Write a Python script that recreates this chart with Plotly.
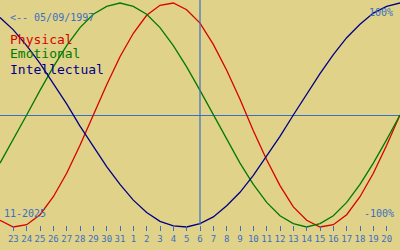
import plotly.graph_objects as go
import pandas as pd

# Data: one point per day, 22 Oct 2025 .. 21 Nov 2025 (values in -1..1 = -100%..100%)
dates = pd.date_range("2025-10-22", "2025-11-21", freq="D")
physical = [-0.94, -1.00, -0.98, -0.89, -0.73, -0.52, -0.27, 0.00, 0.27, 0.52, 0.73,
            0.89, 0.98, 1.00, 0.94, 0.82, 0.63, 0.40, 0.14, -0.14, -0.40, -0.63,
            -0.82, -0.94, -1.00, -0.98, -0.89, -0.73, -0.52, -0.27, 0.00]
emotional = [-0.43, -0.22, 0.00, 0.22, 0.43, 0.62, 0.78, 0.90, 0.97, 1.00, 0.97,
             0.90, 0.78, 0.62, 0.43, 0.22, 0.00, -0.22, -0.43, -0.62, -0.78, -0.90,
             -0.97, -1.00, -0.97, -0.90, -0.78, -0.62, -0.43, -0.22, 0.00]
intellectual = [0.87, 0.76, 0.62, 0.46, 0.28, 0.10, -0.10, -0.28, -0.46, -0.62, -0.76,
                -0.87, -0.95, -0.99, -1.00, -0.97, -0.91, -0.81, -0.69, -0.54, -0.37, -0.19,
                0.00, 0.19, 0.37, 0.54, 0.69, 0.81, 0.91, 0.97, 1.00]
tick_dates = pd.date_range("2025-10-23", "2025-11-20", freq="D")
tick_labels = [str(d.day) for d in tick_dates]
today = "2025-11-06"
birth_label = "<-- 05/09/1997"
month_label = "11-2025"
series_names = ["Physical", "Emotional", "Intellectual"]
series_colors = ["#d80000", "#007a00", "#000088"]

BG = "#e0d288"
BLUE = "#3a6fc4"
W, H = 400, 250
MONO = "DejaVu Sans Mono"

fig = go.Figure()
for name, vals, col in zip(series_names, [physical, emotional, intellectual], series_colors):
    fig.add_trace(go.Scatter(x=dates, y=vals, mode="lines", name=name,
                             line=dict(color=col, width=1.3), showlegend=False,
                             hoverinfo="skip"))

# y: value 1 at pixel 3, value -1 at pixel 227 (112 px per unit)
ppu = 112.0
y_top = 1 + 3 / ppu
y_bot = -1 - (H - 227) / ppu

fig.update_layout(
    width=W, height=H,
    margin=dict(l=0, r=0, t=0, b=0),
    paper_bgcolor=BG, plot_bgcolor=BG,
    xaxis=dict(range=["2025-10-22", "2025-11-21"], anchor="free", position=(H - 225) / H,
               tickvals=tick_dates, ticktext=tick_labels, ticks="outside", ticklen=5,
               tickwidth=1, tickcolor=BLUE, showgrid=False, showline=False, zeroline=False,
               tickfont=dict(family=MONO, size=9, color=BLUE), fixedrange=True),
    yaxis=dict(range=[y_bot, y_top], showticklabels=False, showgrid=False, ticks="",
               zeroline=True, zerolinecolor=BLUE, zerolinewidth=1, fixedrange=True),
)

fig.add_shape(type="line", xref="x", yref="paper", x0=today, x1=today,
              y0=(H - 225) / H, y1=1, line=dict(color=BLUE, width=1.2))

def px_ann(text, x, y, size, color, xanchor="left"):
    fig.add_annotation(text=text, xref="paper", yref="paper", x=x / W, y=1 - y / H,
                       xanchor=xanchor, yanchor="middle", showarrow=False,
                       font=dict(family=MONO, size=size, color=color), borderpad=0)

px_ann(birth_label, 9, 17, 10, BLUE)
for i, (name, col) in enumerate(zip(series_names, series_colors)):
    px_ann(name, 9, 39 + 15 * i, 13, col)
px_ann("100%", 394, 12, 10, BLUE, "right")
px_ann("-100%", 395, 213, 10, BLUE, "right")
px_ann(month_label, 3, 213, 10, BLUE)

fig.write_html("out.html")
